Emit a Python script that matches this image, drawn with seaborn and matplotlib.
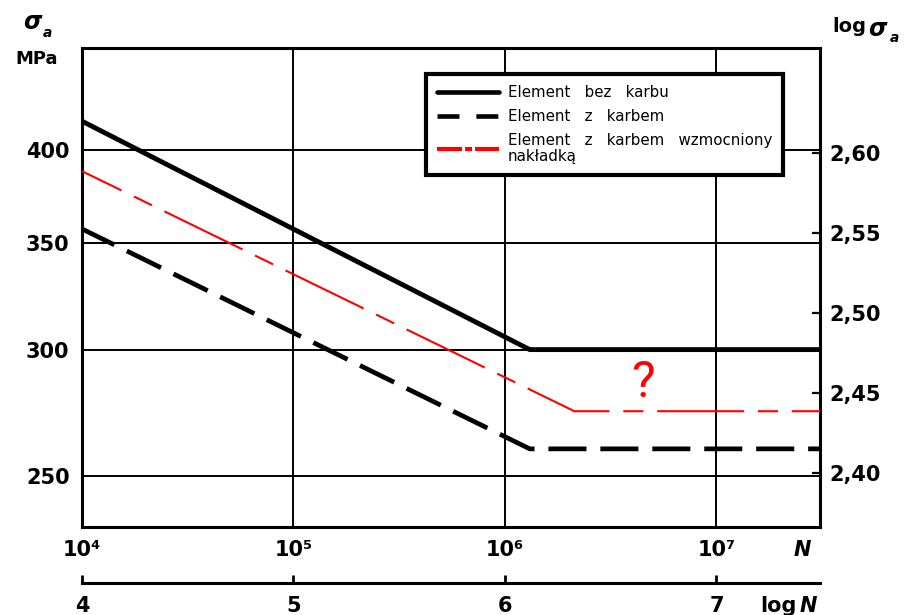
import numpy as np
import matplotlib
matplotlib.use("Agg")
import matplotlib.pyplot as plt
from matplotlib.lines import Line2D
from matplotlib.ticker import FixedLocator, FixedFormatter, NullLocator
import seaborn as sns

# Wöhler curves: number of cycles N and stress amplitude sigma_a [MPa]
n_bez_karbu = [1e4, 1.31e6, 3.09e7]
sigma_bez_karbu = [417, 300, 300]

n_z_karbem = [1e4, 1.31e6, 3.09e7]
sigma_z_karbem = [357, 260, 260]

n_wzmocniony = [1e4, 2.13e6, 3.09e7]
sigma_wzmocniony = [388, 274.5, 274.5]

series_labels = [
    "Element   bez   karbu",
    "Element   z   karbem",
    "Element   z   karbem   wzmocniony\nnakładką",
]

n_ticks = [1e4, 1e5, 1e6, 1e7]
n_tick_labels = ["10⁴", "10⁵", "10⁶", "10⁷"]
log_n_ticks = [4, 5, 6, 7]
log_n_tick_labels = ["4", "5", "6", "7"]
sigma_ticks = [250, 300, 350, 400]
sigma_tick_labels = ["250", "300", "350", "400"]
log_sigma_ticks = [2.40, 2.45, 2.50, 2.55, 2.60]
log_sigma_tick_labels = ["2,40", "2,45", "2,50", "2,55", "2,60"]

n_limits = (1e4, 3.09e7)
sigma_limits = (232.3, 463.4)

question_pos = (4.47e6, 286)

sns.set_style("white")
plt.rcParams["font.family"] = ["DejaVu Sans"]
plt.rcParams["lines.scale_dashes"] = False
plt.rcParams["text.color"] = "black"
plt.rcParams["xtick.color"] = "black"
plt.rcParams["ytick.color"] = "black"
plt.rcParams["xtick.labelcolor"] = "black"
plt.rcParams["ytick.labelcolor"] = "black"

W, H = 905, 615
fig = plt.figure(figsize=(W / 100, H / 100), dpi=100)
ax = fig.add_axes([82 / W, (H - 527) / H, 738 / W, 479 / H])
ax.set_xscale("log")
ax.set_yscale("log")

sns.lineplot(x=n_bez_karbu, y=sigma_bez_karbu, ax=ax, color="black",
             linewidth=3.5, solid_capstyle="butt", zorder=3)
sns.lineplot(x=n_z_karbem, y=sigma_z_karbem, ax=ax, color="black",
             linewidth=3.4, zorder=3)
ax.lines[-1].set_linestyle((1.4, (27.4, 10.0)))
sns.lineplot(x=n_wzmocniony, y=sigma_wzmocniony, ax=ax, color="red",
             linewidth=1.5, zorder=3)
ax.lines[-1].set_linestyle((31.0, (62.6, 10.0, 14.4, 10.0)))

ax.set_xlim(*n_limits)
ax.set_ylim(*sigma_limits)

ax.xaxis.set_major_locator(FixedLocator(n_ticks))
ax.xaxis.set_major_formatter(FixedFormatter(n_tick_labels))
ax.xaxis.set_minor_locator(NullLocator())
ax.yaxis.set_major_locator(FixedLocator(sigma_ticks))
ax.yaxis.set_major_formatter(FixedFormatter(sigma_tick_labels))
ax.yaxis.set_minor_locator(NullLocator())
ax.tick_params(axis="x", length=0, pad=9, labelsize=15)
ax.tick_params(axis="y", length=0, pad=9, labelsize=15)
for lab in ax.get_xticklabels() + ax.get_yticklabels():
    lab.set_fontweight("bold")

ax.set_axisbelow(True)
ax.grid(True, which="major", color="black", linewidth=1.4)
for sp in ax.spines.values():
    sp.set_linewidth(2.2)
    sp.set_color("black")
ax.set_xlabel("")
ax.set_ylabel("")

# right-hand axis in log10(sigma_a)
ax_r = ax.twinx()
ax_r.set_yscale("log")
ax_r.set_ylim(*sigma_limits)
ax_r.yaxis.set_major_locator(FixedLocator([10 ** v for v in log_sigma_ticks]))
ax_r.yaxis.set_major_formatter(FixedFormatter(log_sigma_tick_labels))
ax_r.yaxis.set_minor_locator(NullLocator())
ax_r.tick_params(axis="y", direction="in", length=6, width=1.6, pad=7,
                 labelsize=15)
for lab in ax_r.get_yticklabels():
    lab.set_fontweight("bold")
for sp in ax_r.spines.values():
    sp.set_visible(False)

# secondary scale of log N below the N axis
sec = ax.secondary_xaxis(-0.117, functions=(np.log10, lambda v: 10 ** v))
sec.xaxis.set_major_locator(FixedLocator(log_n_ticks))
sec.xaxis.set_major_formatter(FixedFormatter(log_n_tick_labels))
sec.xaxis.set_minor_locator(NullLocator())
sec.tick_params(axis="x", direction="in", length=6, width=2, pad=9,
                labelsize=15)
for lab in sec.get_xticklabels():
    lab.set_fontweight("bold")
sec.spines["bottom"].set_linewidth(2.2)
sec.spines["bottom"].set_color("black")

# legend
handles = [
    Line2D([], [], color="black", linewidth=3.3),
    Line2D([], [], color="black", linewidth=3.3, linestyle=(0, (15.8, 12.2))),
    Line2D([], [], color="red", linewidth=3.0, linestyle=(0, (18, 2.2, 5, 2.2))),
]
leg = ax.legend(handles, series_labels, loc="upper left",
                bbox_to_anchor=((426 - 82) / 738, (527 - 74) / 479),
                borderaxespad=0, fontsize=10.8, handlelength=4.1,
                handletextpad=0.6, labelspacing=0.6, borderpad=0.75,
                fancybox=False, framealpha=1, edgecolor="black")
leg.get_frame().set_linewidth(3)
leg.set_zorder(10)
for t in leg.get_texts():
    t.set_color("black")
    t.set_linespacing(1.05)

ax.text(*question_pos, "?", color="red", fontsize=36, ha="center",
        va="center", family=["Roboto", "DejaVu Sans"], zorder=4)

def ftext(x, y, s, **kw):
    fig.text(x / W, 1 - y / H, s, color="black", **kw)

ftext(32, 22, "σ", fontsize=17, fontweight="bold", style="italic",
      ha="center", va="center")
ftext(47, 33, "a", fontsize=10, fontweight="bold", style="italic",
      ha="center", va="center")
ftext(37, 59, "MPa", fontsize=13, fontweight="bold", ha="center",
      va="center")
ftext(849, 27, "log", fontsize=14, fontweight="bold", ha="center",
      va="center")
ftext(877, 29, "σ", fontsize=17, fontweight="bold", style="italic",
      ha="center", va="center")
ftext(894, 38, "a", fontsize=10, fontweight="bold", style="italic",
      ha="center", va="center")
ftext(802, 550, "N", fontsize=15, fontweight="bold", style="italic",
      ha="center", va="center")
ftext(778, 606, "log", fontsize=15, fontweight="bold", ha="center",
      va="center")
ftext(808, 606, "N", fontsize=15, fontweight="bold", style="italic",
      ha="center", va="center")

fig.savefig("out.png", dpi=100)
